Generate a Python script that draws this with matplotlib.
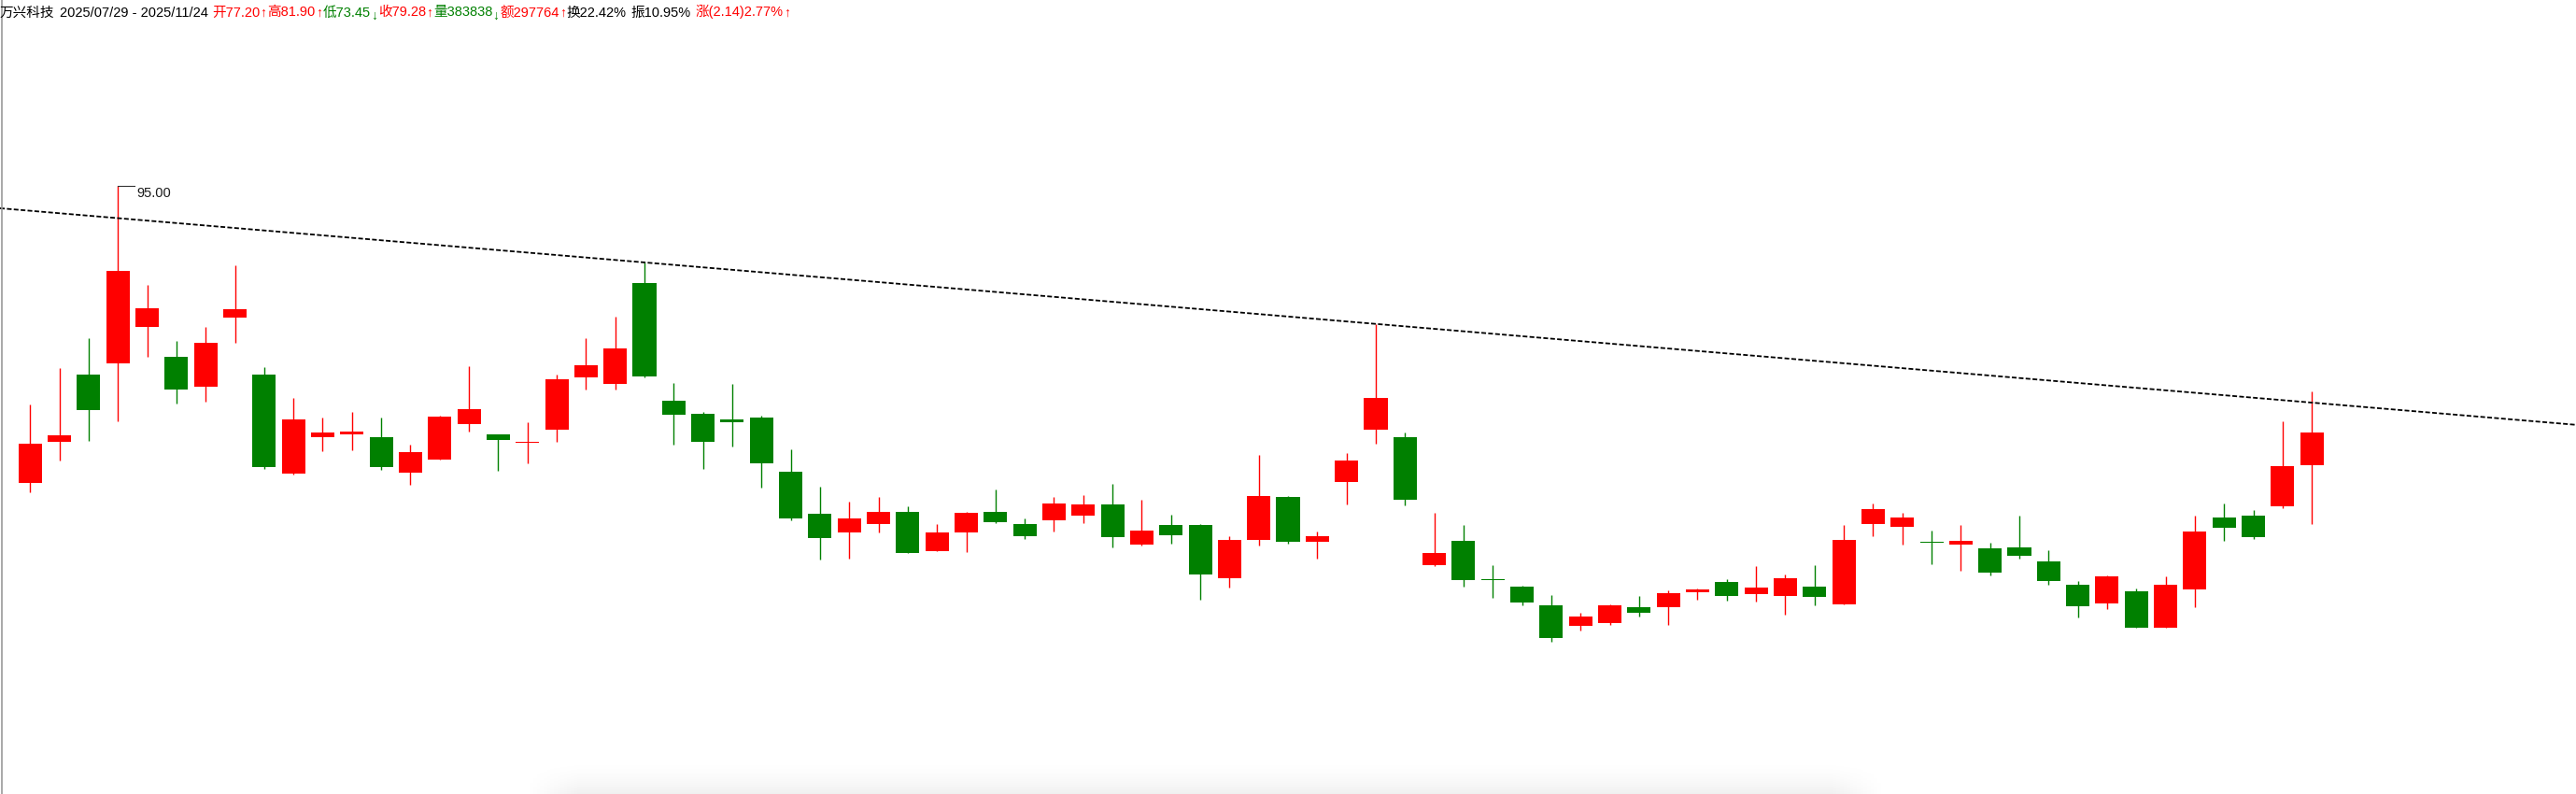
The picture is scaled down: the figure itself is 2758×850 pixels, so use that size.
import numpy as np
import matplotlib.pyplot as plt
from matplotlib.lines import Line2D

# daily candles 2025/07/29 - 2025/11/24
opens = [76.10, 78.72, 82.99, 83.72, 86.05, 84.12, 82.23, 86.64, 82.99, 76.70,
         79.02, 79.18, 79.00, 76.76, 77.59, 79.85, 79.18, 78.67, 79.50, 82.83,
         82.41, 88.83, 81.32, 80.49, 80.13, 80.25, 76.80, 74.12, 72.94, 73.48,
         74.23, 71.75, 72.94, 74.23, 73.46, 73.72, 74.02, 74.71, 72.17, 73.40,
         73.40, 70.03, 72.47, 75.19, 72.35, 76.16, 79.50, 79.00, 70.86, 72.39,
         69.94, 69.47, 68.28, 66.99, 67.17, 68.16, 68.18, 69.13, 69.77, 69.01,
         68.89, 69.47, 68.36, 73.48, 73.30, 72.32, 72.17, 71.91, 71.97, 71.08,
         69.59, 68.42, 69.17, 66.87, 69.31, 73.88, 74.00, 74.61, 77.20]
highs = [81.06, 83.41, 85.31, 95.00, 88.71, 85.13, 86.03, 89.96, 83.47, 81.50,
         80.25, 80.61, 80.25, 78.52, 80.37, 83.53, 79.18, 79.95, 82.99, 85.31,
         86.68, 90.14, 82.45, 80.61, 82.39, 80.37, 78.22, 75.84, 74.89, 75.19,
         74.59, 73.46, 74.23, 75.66, 73.82, 75.19, 75.31, 76.02, 75.01, 74.06,
         73.46, 72.69, 77.87, 75.25, 72.98, 77.99, 86.22, 79.30, 74.17, 73.40,
         70.84, 69.53, 68.93, 67.80, 68.34, 68.87, 69.23, 69.35, 69.95, 70.78,
         70.24, 70.84, 73.40, 74.77, 74.17, 73.04, 73.40, 72.27, 74.00, 71.79,
         69.83, 70.18, 69.35, 70.12, 74.00, 74.77, 74.35, 80.01, 81.90]
lows = [75.50, 77.53, 78.78, 80.03, 84.14, 81.16, 81.28, 85.03, 76.99, 76.64,
        78.13, 78.19, 76.93, 75.98, 77.59, 79.38, 76.84, 77.35, 78.72, 82.06,
        82.06, 82.83, 78.54, 76.99, 78.42, 75.80, 73.72, 71.22, 71.28, 72.94,
        71.63, 71.75, 71.69, 73.54, 72.53, 73.00, 73.54, 71.99, 72.11, 72.23,
        68.65, 69.43, 72.11, 72.23, 71.28, 74.73, 78.60, 74.67, 70.80, 69.49,
        68.77, 68.30, 65.98, 66.69, 67.05, 67.58, 67.05, 68.65, 68.60, 68.54,
        67.70, 68.30, 68.36, 72.71, 72.17, 70.92, 70.50, 70.20, 71.28, 69.61,
        67.52, 68.06, 66.87, 66.87, 68.18, 72.41, 72.53, 74.49, 73.45]
closes = [78.58, 79.12, 80.75, 89.60, 87.22, 82.06, 85.01, 87.16, 77.11, 80.13,
          79.30, 79.36, 77.11, 78.05, 80.31, 80.79, 78.84, 78.69, 82.69, 83.58,
          84.66, 82.89, 80.45, 78.72, 79.97, 77.35, 73.84, 72.59, 73.82, 74.23,
          71.63, 72.92, 74.17, 73.60, 72.71, 74.77, 74.71, 72.65, 73.04, 72.77,
          70.26, 72.45, 75.25, 72.35, 72.69, 77.51, 81.50, 75.03, 71.61, 69.91,
          69.92, 68.48, 66.21, 67.56, 68.28, 67.82, 69.05, 69.29, 68.89, 69.41,
          70.01, 68.83, 72.45, 74.41, 73.88, 72.30, 72.39, 70.38, 71.45, 69.85,
          68.24, 70.12, 66.87, 69.59, 72.98, 73.24, 72.65, 77.14, 79.28]

stock_name = '万兴科技'
start_date = '2025/07/29'
end_date = '2025/11/24'
volume = 383838
amount = 297764
turnover = 22.42

# trend line drawn through two swing highs
trend_idx = [21, 46]

RED = '#ff0000'
GREEN = '#008000'

W, H = 2758, 850
fig = plt.figure(figsize=(W / 100, H / 100), dpi=100)
ax = fig.add_axes([0, 0, 1, 1])
ax.set_xlim(-1.031, 87.03)
ax.set_ylim(56.25, 106.87)
ax.axis('off')

o = np.array(opens)
h = np.array(highs)
l = np.array(lows)
c = np.array(closes)
x = np.arange(len(o))
colors = np.where(c > o, RED, GREEN)

ax.vlines(x, l, h, colors=colors, lw=1.0, zorder=2)
diff = np.abs(c - o)
mid = (o + c) / 2
bottom = np.where(diff < 0.07, mid - 0.035, np.minimum(o, c))
height = np.maximum(diff, 0.07)
ax.bar(x, height, bottom=bottom, width=0.8, color=colors, lw=0, zorder=3)

# dashed resistance line
ax.axline((trend_idx[0], h[trend_idx[0]]), (trend_idx[1], h[trend_idx[1]]),
          color='black', lw=1.3, linestyle=(0, (2.8, 1.3)), zorder=4)

# max high marker
imax = int(np.argmax(h))
ax.plot([imax, imax + 0.56], [h[imax], h[imax]], color='#333333', lw=0.8, zorder=4)
ax.annotate(f'{h[imax]:.2f}', xy=(imax, h[imax]), xytext=(14.2, -5.5),
            textcoords='offset points', fontsize=10.5, va='center', ha='left',
            color='#1a1a1a', family=['Liberation Sans', 'DejaVu Sans'])

# left border
fig.add_artist(Line2D([1.5 / W, 1.5 / W], [0, 1], color='#999999', lw=1.2))

# faint shadow at the bottom
sax = fig.add_axes([560 / W, 0, 1460 / W, 42 / H])
sax.axis('off')
gy = np.linspace(0, 1, 42)[:, None] ** 2
t = np.linspace(0, 1, 400)
gx = np.clip(np.minimum(t / 0.04, (1 - t) / 0.04), 0, 1)[None, :]
img = np.zeros((42, 400, 4))
img[..., 3] = gy * gx * 0.06
sax.imshow(img, aspect='auto')

# header line
chg = c[-1] - c[-2]
amp = (h[-1] - l[-1]) / c[-2] * 100
segments = [
    (stock_name, 'black', ''),
    (f'{start_date} - {end_date}', 'black', ''),
    (f'开{o[-1]:.2f}', RED, '↑'),
    (f'高{h[-1]:.2f}', RED, '↑'),
    (f'低{l[-1]:.2f}', GREEN, '↓'),
    (f'收{c[-1]:.2f}', RED, '↑'),
    (f'量{volume}', GREEN, '↓'),
    (f'额{amount}', RED, '↑'),
    (f'换{turnover:.2f}%', 'black', ''),
    (f'振{amp:.2f}%', 'black', ''),
    (f'涨({chg:.2f}){chg / c[-2] * 100:.2f}%', RED, '↑'),
]
fam = ['Liberation Sans', 'Noto Sans CJK SC', 'DejaVu Sans']
fig.canvas.draw()
renderer = fig.canvas.get_renderer()
xpos = 0.0
base = 1 - 17.5 / H
for text, col, arrow in segments:
    tt = fig.text(xpos / W, base, text, color=col, fontsize=10.5, family=fam,
                  va='baseline', ha='left')
    xpos = tt.get_window_extent(renderer).x1
    if arrow:
        dy = 0 if arrow == '↑' else -3
        ta = fig.text(xpos / W, base + dy / H, arrow, color=col, fontsize=10,
                      family=['Liberation Sans', 'DejaVu Sans'],
                      va='baseline', ha='left')
        xpos = ta.get_window_extent(renderer).x1 + 1
    else:
        xpos += 5

fig.savefig('out.png', dpi=100)
